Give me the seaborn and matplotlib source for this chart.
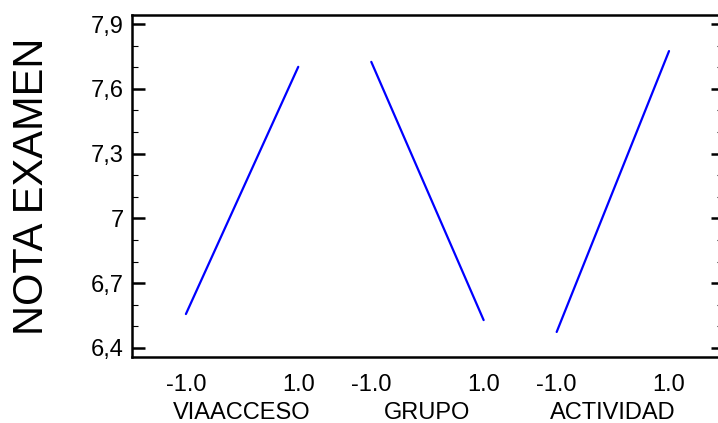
import pandas as pd
import matplotlib.pyplot as plt
import seaborn as sns
from matplotlib.ticker import MultipleLocator
from matplotlib.transforms import blended_transform_factory

# main effects, value at level -1 and +1 of each factor
factores = ['VIAACCESO', 'GRUPO', 'ACTIVIDAD']
nota_bajo = [6.557, 7.725, 6.474]
nota_alto = [7.702, 6.529, 7.775]
niveles = [-1.0, 1.0]
nivel_labels = ['-1.0', '1.0']
y_ticks = [6.4, 6.7, 7.0, 7.3, 7.6, 7.9]
y_labels = ['6,4', '6,7', '7', '7,3', '7,6', '7,9']

sep = 3.3  # distance between factor centres in x units

filas = []
for i, f in enumerate(factores):
    for nv, val in zip(niveles, [nota_bajo[i], nota_alto[i]]):
        filas.append({'factor': f, 'x': i * sep + nv, 'nota': val})
data = pd.DataFrame(filas)

sns.set_style('white')
plt.rcParams['font.family'] = ['Liberation Sans', 'DejaVu Sans']
plt.rcParams['text.color'] = 'black'
plt.rcParams['xtick.color'] = 'black'
plt.rcParams['ytick.color'] = 'black'
plt.rcParams['axes.labelcolor'] = 'black'

fig = plt.figure(figsize=(7.18, 4.23), dpi=100)
# right edge sits just outside the picture, as in the original
ax = fig.add_axes([0.1838, 0.156, 0.8231, 0.8085])

sns.lineplot(data=data, x='x', y='nota', units='factor', estimator=None,
             color='#0000ff', linewidth=1.6, ax=ax, legend=False)

ax.set_xlim(-1.96, 2 * sep + 1.96)
ax.set_ylim(6.358, 7.942)

xt = [i * sep + nv for i in range(len(factores)) for nv in niveles]
ax.set_xticks(xt)
ax.set_xticklabels(nivel_labels * len(factores), fontsize=17)
ax.tick_params(axis='x', length=0, pad=12)

ax.set_yticks(y_ticks)
ax.set_yticklabels(y_labels, fontsize=17)
ax.yaxis.set_minor_locator(MultipleLocator(0.1))
ax.tick_params(axis='y', which='major', direction='in', length=9, width=1.8,
               left=True, right=True, pad=6)
ax.tick_params(axis='y', which='minor', direction='in', length=4.5, width=0.8,
               left=True, right=True)

trans = blended_transform_factory(ax.transData, fig.transFigure)
for i, f in enumerate(factores):
    ax.text(i * sep, 0.024, f, transform=trans, ha='center', va='center',
            fontsize=17)

ax.set_xlabel('')
ax.set_ylabel('NOTA EXAMEN', fontsize=30, labelpad=28)

for s in ['left', 'bottom', 'top']:
    ax.spines[s].set_visible(True)
    ax.spines[s].set_color('black')
    ax.spines[s].set_linewidth(1.8)
ax.spines['right'].set_visible(False)

fig.savefig('out.png', dpi=100)
